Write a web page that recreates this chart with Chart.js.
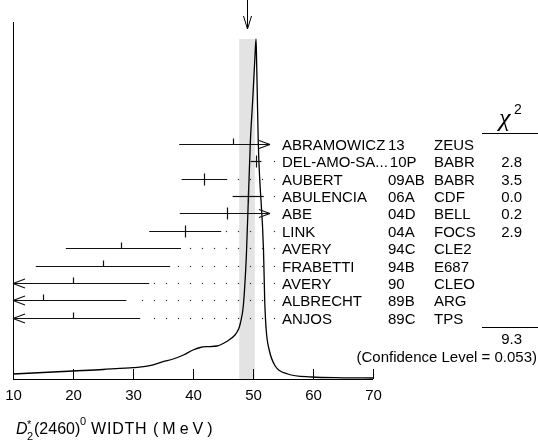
<!DOCTYPE html>
<html>
<head>
<meta charset="utf-8">
<script src="https://cdn.jsdelivr.net/npm/chart.js@4/dist/chart.umd.min.js"></script>
<style>
  html, body { margin: 0; padding: 0; background: #fff; }
  #wrap { width: 538px; height: 444px; position: relative; }
</style>
</head>
<body>
<div id="wrap"><canvas id="chart"></canvas></div>
<script>
"use strict";

// Measurements (rows from top to bottom)
const names = ["ABRAMOWICZ", "DEL-AMO-SA...", "AUBERT", "ABULENCIA", "ABE", "LINK",
  "AVERY", "FRABETTI", "AVERY", "ALBRECHT", "ANJOS"];
const docIds = ["13", "10P", "09AB", "06A", "04D", "04A", "94C", "94B", "90", "89B", "89C"];
const experiments = ["ZEUS", "BABR", "BABR", "CDF", "BELL", "FOCS", "CLE2", "E687", "CLEO", "ARG", "TPS"];
const chiSquared = [null, "2.8", "3.5", "0.0", "0.2", "2.9", null, null, null, null, null];
const widths = [46.6, 50.5, 41.9, 49.2, 45.6, 38.7, 28, 25, 20, 15, 20];
const errMinus = [8.9, 0.9, 3.8, 2.6, 7.8, 6.0, 9.2, 11.2, 15.0, 14.1, 11.2];
const errPlus = [10.0, 0.9, 3.8, 2.6, 7.8, 6.0, 10.0, 11.2, 12.7, 13.9, 11.2];

// Weighted average
const average = 49.0;
const averageErr = 1.3;
const chiTotal = "9.3";
const confidenceLevel = "0.053";

// Ideogram curve (width in MeV, height in arbitrary units)
const curveWidth = [10, 15, 20, 25, 27.8, 30, 32.8, 35, 36.7, 38.4, 40, 41.2, 42.3, 44, 45.6,
  47, 47.6, 47.9, 48.4, 48.9, 49.55, 49.95, 50.3, 50.5, 50.58, 50.7, 50.88, 51.75, 51.95,
  52.2, 52.7, 53.7, 55.8, 59.8, 65, 70];
const curveHeight = [5, 6.5, 8, 9.5, 10.7, 11.3, 13.3, 17.3, 20, 24, 29, 31.5, 32.3, 33, 37.5,
  44, 50, 56, 74, 124, 236, 279, 319, 340, 324, 289, 236, 129, 79,
  49, 29, 13, 5, 2, 1.2, 1];

const xTicks = [10, 20, 30, 40, 50, 60, 70];

// layout
const rowTop = 235;
const rowStep = 17.37;
const bandTop = 340;
const nameX = 282, yearX = 388, expX = 434, chiX = 522;
const FONT = "15px 'Liberation Sans', Arial, sans-serif";
const TITLE = "16px 'Liberation Sans', Arial, sans-serif";
const SMALL = "11px 'Liberation Sans', Arial, sans-serif";

function line(ctx, x1, y1, x2, y2) {
  ctx.beginPath();
  ctx.moveTo(x1, y1);
  ctx.lineTo(x2, y2);
  ctx.stroke();
}

function spaced(ctx, text, x, y, gap) {
  for (const ch of text) {
    ctx.fillText(ch, x, y);
    x += ctx.measureText(ch).width + gap;
  }
}

const ideogram = {
  id: "ideogram",
  beforeDatasetsDraw(chart) {
    const ctx = chart.ctx, xs = chart.scales.x, ys = chart.scales.y, a = chart.chartArea;
    const l = xs.getPixelForValue(average - averageErr);
    const r = xs.getPixelForValue(average + averageErr);
    const t = ys.getPixelForValue(bandTop);
    ctx.save();
    ctx.fillStyle = "#e3e3e3";
    ctx.fillRect(l, t, r - l, a.bottom - t);
    ctx.restore();
  },
  afterDatasetsDraw(chart) {
    const ctx = chart.ctx, xs = chart.scales.x, ys = chart.scales.y, a = chart.chartArea;
    ctx.save();
    ctx.strokeStyle = "#000";
    ctx.fillStyle = "#000";
    ctx.lineWidth = 1;

    // axes
    line(ctx, a.left, a.bottom + 0.5, a.right, a.bottom + 0.5);
    line(ctx, a.left + 0.5, a.top, a.left + 0.5, a.bottom);
    ctx.font = FONT;
    ctx.textAlign = "center";
    ctx.textBaseline = "alphabetic";
    xTicks.forEach(t => {
      const px = Math.round(xs.getPixelForValue(t)) + 0.5;
      line(ctx, px, a.bottom, px, a.bottom - 10);
      ctx.fillText(String(t), px, a.bottom + 21);
    });

    // arrow to the average
    const ax = Math.round(xs.getPixelForValue(average)) + 0.5;
    const tip = ys.getPixelForValue(bandTop) - 10;
    line(ctx, ax, 0, ax, tip);
    line(ctx, ax - 4, tip - 13, ax, tip);
    line(ctx, ax + 4, tip - 13, ax, tip);

    // error bars
    const rightLimit = nameX - 12;
    ctx.lineWidth = 1.2;
    ctx.strokeStyle = "#111";
    names.forEach((n, i) => {
      const y = Math.round(ys.getPixelForValue(rowTop - rowStep * i)) + 0.5;
      let lo = xs.getPixelForValue(widths[i] - errMinus[i]);
      let hi = xs.getPixelForValue(widths[i] + errPlus[i]);
      const arrowL = lo < a.left, arrowR = hi > rightLimit;
      if (arrowL) lo = a.left;
      if (arrowR) hi = rightLimit;
      line(ctx, lo, y, hi, y);
      if (arrowL) {
        line(ctx, lo + 12, y - 4.5, lo, y);
        line(ctx, lo + 12, y + 4.5, lo, y);
      }
      if (arrowR) {
        line(ctx, hi - 11, y - 4, hi, y);
        line(ctx, hi - 11, y + 4, hi, y);
      }
      const cx = Math.round(xs.getPixelForValue(widths[i])) + 0.5;
      line(ctx, cx, y - 6, cx, chiSquared[i] ? y + 6 : y);

      // dotted leader
      ctx.fillStyle = "#333";
      for (let dx = nameX - 7.5; dx > hi + 5; dx -= 12) {
        ctx.fillRect(dx - 0.6, y - 0.6, 1.2, 1.2);
      }

      // labels
      ctx.fillStyle = "#000";
      ctx.font = FONT;
      ctx.textAlign = "left";
      const ty = y + 5;
      ctx.fillText(n, nameX, ty);
      const yx = Math.max(yearX, nameX + ctx.measureText(n).width + 2);
      ctx.fillText(docIds[i], yx, ty);
      ctx.fillText(experiments[i], expX, ty);
      if (chiSquared[i]) {
        ctx.textAlign = "right";
        ctx.fillText(chiSquared[i], chiX, ty);
      }
    });

    // chi-square column
    ctx.strokeStyle = "#000";
    ctx.lineWidth = 1;
    ctx.textAlign = "left";
    ctx.font = "italic 26px 'Liberation Serif', 'DejaVu Serif', serif";
    ctx.fillText("\u03c7", 499, 126);
    ctx.font = "14px 'Liberation Sans', Arial, sans-serif";
    ctx.fillText("2", 514, 114);
    line(ctx, 482, 133.5, 538, 133.5);
    line(ctx, 482, 327.5, 538, 327.5);
    ctx.font = FONT;
    ctx.textAlign = "right";
    ctx.fillText(chiTotal, chiX, 344);
    ctx.fillText("(Confidence Level = " + confidenceLevel + ")", 537, 362);

    // axis title
    ctx.textAlign = "left";
    ctx.font = "italic 16px 'Liberation Sans', Arial, sans-serif";
    ctx.fillText("D", 16, 434);
    ctx.font = SMALL;
    ctx.fillText("*", 27, 428);
    ctx.fillText("2", 27, 440);
    ctx.font = TITLE;
    spaced(ctx, "(2460)", 34, 434, 0);
    ctx.font = SMALL;
    ctx.fillText("0", 80, 425);
    ctx.font = TITLE;
    spaced(ctx, "WIDTH", 91, 434, 0.8);
    spaced(ctx, "(MeV)", 153, 434, 4);
    ctx.restore();
  }
};

new Chart(document.getElementById("chart"), {
  type: "line",
  data: {
    datasets: [{
      data: curveWidth.map((w, i) => ({ x: w, y: curveHeight[i] })),
      borderColor: "#000",
      borderWidth: 1.3,
      pointRadius: 0,
      fill: false,
      cubicInterpolationMode: "monotone"
    }]
  },
  options: {
    responsive: true,
    maintainAspectRatio: false,
    animation: false,
    events: [],
    layout: { padding: { left: 13, right: 165, top: 22, bottom: 65 } },
    scales: {
      x: { type: "linear", min: 10, max: 70, display: false },
      y: { min: 0, max: 357, display: false }
    },
    plugins: {
      legend: { display: false },
      tooltip: { enabled: false },
      title: { display: false }
    }
  },
  plugins: [ideogram]
});
</script>
</body>
</html>
